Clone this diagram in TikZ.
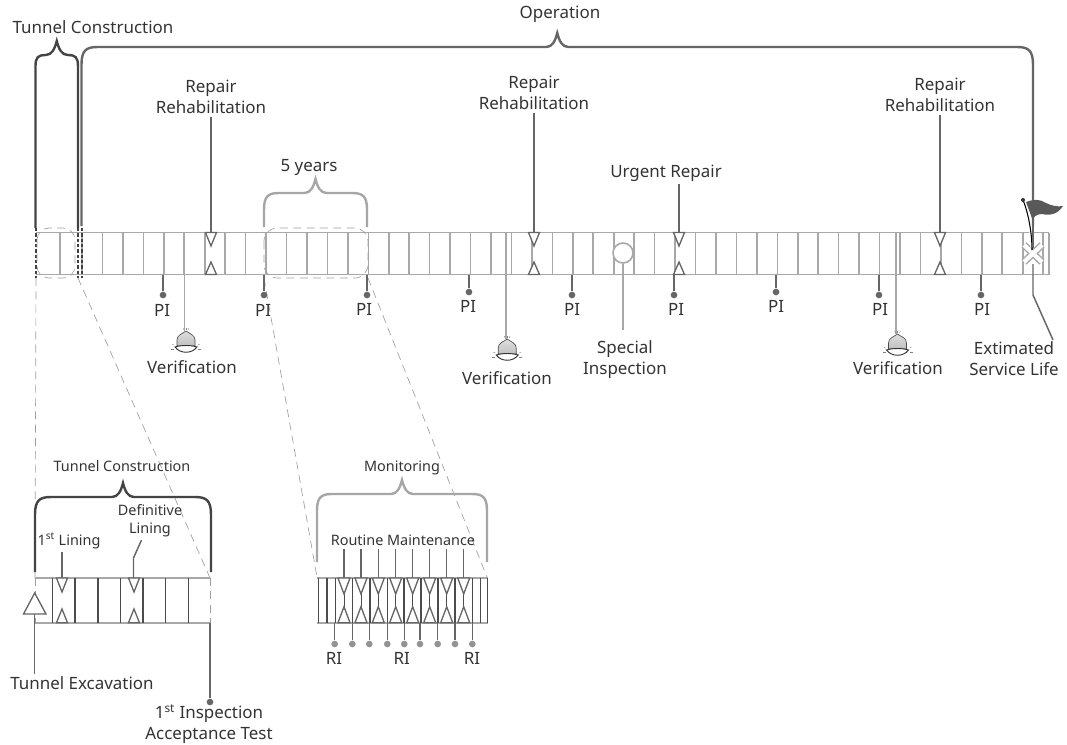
\documentclass[tikz,border=0pt]{standalone}
\usepackage{fontspec}
\setmainfont{Noto Sans}
\usepackage{tikz}
\usetikzlibrary{arrows.meta, positioning, calc}
\definecolor{inktext}{HTML}{333333}
\definecolor{bargray}{HTML}{A8A8A8}
\definecolor{leadgray}{HTML}{666666}
\definecolor{darkbrace}{HTML}{444444}
\newcommand{\tunnelbrace}[6]{% style, left, right, bottom, top, tip
  \draw[#1] (#2,#4) -- (#2,#5+#6*1.1)
    .. controls (#2,#5+#6*0.2) and (#2+#6*0.3,#5) .. (#2+#6,#5)
    -- ({(#2+#3)/2-11},#5)
    .. controls ({(#2+#3)/2-5},#5) and ({(#2+#3)/2-2},#5-6) .. ({(#2+#3)/2},#5-14)
    .. controls ({(#2+#3)/2+2},#5-6) and ({(#2+#3)/2+5},#5) .. ({(#2+#3)/2+11},#5)
    -- (#3-#6,#5)
    .. controls (#3-#6*0.3,#5) and (#3,#5+#6*0.2) .. (#3,#5+#6*1.1)
    -- (#3,#4);
}
\tikzset{
  lab/.style={text=inktext, align=center, inner sep=2pt, font=\fontsize{12.7}{15.8}\selectfont},
  smalllab/.style={lab, font=\fontsize{10.8}{13.5}\selectfont},
  tick/.style={draw=bargray, line width=1.2pt},
  darktick/.style={draw=black!70, line width=1pt},
  zoomline/.style={draw=gray!75, line width=0.5pt, dash pattern=on 6pt off 4pt},
  leader/.style={draw=leadgray, line width=1.1pt},
  lightleader/.style={draw=bargray, line width=1.2pt},
  dot/.style={circle, fill=#1, inner sep=0pt, minimum size=5pt},
  bell/.pic={
    \draw[black!70, line width=0.5pt, top color=gray!25, bottom color=gray!50]
      (-9,15) -- (-9,9) .. controls (-9,4) and (-4,3) .. (0,0)
      .. controls (4,3) and (9,4) .. (9,9) -- (9,15) -- cycle;
    \draw[black!80, line width=0.7pt, fill=white]
      (-11,16) .. controls (-5,14) and (5,14) .. (11,16)
      .. controls (6,23) and (-6,23) .. (-11,16) -- cycle;
    \foreach \a/\b/\c/\d in {0/-3/0/-1,-3/-3/-2/-1,3/-3/2/-1,-15/18/-12/18,15/18/12/18,-14/13/-12/14,14/13/12/14}
      \draw[gray, line width=0.3pt] (\a,\b) -- (\c,\d);
  }
}
\begin{document}
\begin{tikzpicture}[x=0.75pt, y=-0.75pt]
  \useasboundingbox (0,0) rectangle (1067,744);

  % Main bar
  \foreach \k in {0,...,47} {
    \draw[tick] ({82+20.45*\k},232.5) -- ++(0,42);
  }
  \foreach \x in {60,505.7,896,1049} {
    \draw[tick] (\x,232.5) -- ++(0,42);
  }
  \draw[tick] (36,232.5) -- (1049,232.5);
  \draw[tick] (36,274.5) -- (1049,274.5);

  % Dashed marks and zoom lines
  \foreach \x in {36,78,82} {
    \draw[black!75, line width=0.8pt, dash pattern=on 2.5pt off 1.5pt] (\x,228) -- (\x,278);
  }
  \draw[zoomline, rounded corners=9pt] (37,228) rectangle (75,278);
  \draw[zoomline, rounded corners=10pt] (264,228) rectangle (368,278);
  \coordinate (consA) at (36,278);
  \coordinate (consB) at (78,278);
  \coordinate (fiveA) at (264,278);
  \coordinate (fiveB) at (368,278);
  \coordinate (consC) at (35,578);
  \coordinate (consD) at (210,578);
  \coordinate (fiveC) at (317,577);
  \coordinate (fiveD) at (487,577);
  \draw[zoomline] (consA) -- (consC);
  \draw[zoomline] (consB) -- (consD);
  \draw[zoomline] (fiveA) -- (fiveC);
  \draw[zoomline] (fiveB) -- (fiveD);

  % Repairs
  \foreach \n/\x/\y in {1/211/97,2/534/93,3/940/95} {
    \node[lab] (repair\n) at (\x,\y) {Repair\\Rehabilitation};
    \coordinate (repairbar\n) at (\x,233);
    \draw[leader] (repair\n) -- (repairbar\n);
  }
  \node[lab] (urgent) at (666,173) {Urgent Repair};
  \coordinate (urgentbar) at (679,233);
  \draw[leader] (urgent.south -| urgentbar) -- (urgentbar);
  \foreach \x in {211,534,679,940} {
    \draw[leadgray, line width=1pt, fill=white] (\x-5.5,232.5) -- (\x+5.5,232.5) -- (\x,246) -- cycle;
    \draw[leadgray, line width=1pt, fill=white] (\x-5.5,274.5) -- (\x+5.5,274.5) -- (\x,262) -- cycle;
  }

  % Periodic inspections
  \foreach \n/\x/\d/\t/\y in {
    1/163/295/162/310, 2/264/295/263/310, 3/367/295/364/309,
    4/469/292/468/306, 5/572/295/572/309, 6/674/295/676/309,
    7/776/292/776/306, 8/879/295/880/309, 9/981/295/982/309
  } {
    \coordinate (pibar\n) at (\x,274.5);
    \node[dot=leadgray] (pidot\n) at (\x,\d) {};
    \draw[leader] (pibar\n) -- (pidot\n);
    \node[lab] (pilab\n) at (\t,\y) {PI};
  }

  % Verifications
  \foreach \n/\x/\b/\t/\y in {1/184.5/331/192/367,2/505.7/339/507/378,3/896/334/898/368} {
    \coordinate (verbar\n) at (\x,274.5);
    \coordinate (verbell\n) at (\x,\b);
    \draw[lightleader] (verbar\n) -- (verbell\n);
    \pic at (\x+1.5,\b) {bell};
    \node[lab] (verlab\n) at (\t,\y) {Verification};
  }

  % Special inspection
  \node[circle, draw=bargray, fill=white, line width=1.2pt, minimum size=15pt, inner sep=0pt] (special) at (623,253) {};
  \node[lab] (speciallab) at (625,360) {Special\\Inspection};
  \coordinate (specialend) at (623,330);
  \draw[lightleader] (special) -- (specialend);

  % Braces
  \tunnelbrace{darkbrace, line width=1.8pt}{35.5}{78}{228}{55}{10}
  \tunnelbrace{leadgray, line width=1.8pt}{81.5}{1033}{226}{47}{16}
  \tunnelbrace{gray!70, line width=1.8pt}{264}{367}{227}{193}{15}
  \draw[leadgray, line width=1.8pt] (1033,226) -- (1033,250);
  \node[lab] (conslab) at (93,27) {Tunnel Construction};
  \node[lab] (oplab) at (560,14) {Operation};
  \node[lab] (fivelab) at (309,167) {5 years};

  % End of service life
  \draw[bargray, line width=5.4pt] (1024,245) -- (1042,262);
  \draw[bargray, line width=5.4pt] (1042,245) -- (1024,262);
  \draw[white, line width=3.2pt] (1024,245) -- (1042,262);
  \draw[white, line width=3.2pt] (1042,245) -- (1024,262);
  \fill[black!65] (1026,202) .. controls (1034,199) and (1040,199) .. (1046,203)
    .. controls (1052,206) and (1058,207) .. (1063,206)
    .. controls (1058,214) and (1050,216) .. (1042,214)
    .. controls (1037,214) and (1032,217) .. (1033,221) -- cycle;
  \draw[white, line width=1.6pt] (1024,202) .. controls (1029,214) and (1031,232) .. (1031.5,248);
  \draw[black, line width=0.8pt] (1023,200) .. controls (1028,212) and (1032,232) .. (1032,250);
  \fill[black!80] (1023,200) circle (2);
  \node[lab] (lifelab) at (1014,359) {Extimated\\Service Life};
  \coordinate (lifebar) at (1033,264);
  \coordinate (lifebend) at (1033,295);
  \coordinate (lifeend) at (1053,340);
  \draw[leader] (lifebar) -- (lifebend) -- (lifeend);

  % Construction detail
  \draw[tick] (35,578) -- (210,578);
  \draw[tick] (35,622.7) -- (210,622.7);
  \foreach \x in {52.7,75,98,120.7,143,165.7,188.7} {
    \draw[darktick] (\x,578) -- (\x,622.7);
  }
  \draw[zoomline] (35,578) -- (35,622.7);
  \draw[zoomline] (210,578) -- (210,622.7);
  \foreach \x in {62,134} {
    \draw[leadgray, line width=1pt, fill=white] (\x-5.5,578) -- (\x+5.5,578) -- (\x,592) -- cycle;
    \draw[leadgray, line width=1pt, fill=white] (\x-5.5,622.7) -- (\x+5.5,622.7) -- (\x,609) -- cycle;
  }
  \draw[leadgray, line width=1pt, fill=white] (23.5,614) -- (46,614) -- (34.7,593) -- cycle;
  \tunnelbrace{darkbrace, line width=1.8pt}{35}{211}{572}{497}{16}
  \node[smalllab] (detailcons) at (122,466) {Tunnel Construction};
  \node[smalllab] (firstlining) at (69,541) {1\textsuperscript{st} Lining};
  \node[smalllab] (deflining) at (150,521) {Definitive\\Lining};
  \coordinate (firstbar) at (62,578);
  \coordinate (defbar) at (133.5,578);
  \coordinate (defbend) at (133.5,558);
  \draw[leader] (firstlining.south -| firstbar) -- (firstbar);
  \draw[leader] (deflining) -- (defbend) -- (defbar);
  \node[lab] (excavation) at (82,683) {Tunnel Excavation};
  \coordinate (excavtip) at (34.7,614);
  \draw[leader] (excavtip) -- (excavation.north -| excavtip);
  \node[dot=leadgray] (accdot) at (210,702) {};
  \coordinate (accbar) at (210,622.7);
  \draw[leader] (accbar) -- (accdot);
  \node[lab] (acclab) at (209,724.5) {1\textsuperscript{st} Inspection\\Acceptance Test};

  % Monitoring detail
  \draw[tick] (317,578) -- (488,578);
  \draw[tick] (317,622.7) -- (488,622.7);
  \foreach \x in {318.5,327,335.3,352.7,370,387.3,404,421,438,455,472.3,480.7,487.7} {
    \draw[darktick] (\x,578) -- (\x,622.7);
  }
  \foreach \n/\x in {1/344,2/361,3/378.3,4/395.7,5/412.7,6/429.7,7/446.7,8/463.7} {
    \coordinate (rmtop\n) at (\x,549);
    \coordinate (rmbar\n) at (\x,578);
    \draw[leader] (rmtop\n) -- (rmbar\n);
    \draw[darktick, line width=0.5pt] (\x,590) -- (\x,610);
    \draw[leadgray, line width=1pt, fill=white] (\x-6,578) -- (\x+6,578) -- (\x,594) -- cycle;
    \draw[leadgray, line width=1pt, fill=white] (\x-6,622.7) -- (\x+6,622.7) -- (\x,606.7) -- cycle;
  }
  \foreach \n/\x in {1/334.7,2/352.3,3/369.3,4/387.3,5/404.3,6/420,7/437.7,8/455,9/472.3} {
    \coordinate (ribar\n) at (\x,622.7);
    \node[dot=gray!85] (ridot\n) at (\x,644) {};
    \draw[leader] (ribar\n) -- (ridot\n);
  }
  \foreach \n/\x in {1/334,2/401.7,3/472} {
    \node[lab] (rilab\n) at (\x,658) {RI};
  }
  \tunnelbrace{gray!70, line width=1.8pt}{317}{487}{562}{494}{15}
  \node[smalllab] (monlab) at (402,468) {Monitoring};
  \node[smalllab] (routine) at (403,540) {Routine Maintenance};
\end{tikzpicture}
\end{document}
